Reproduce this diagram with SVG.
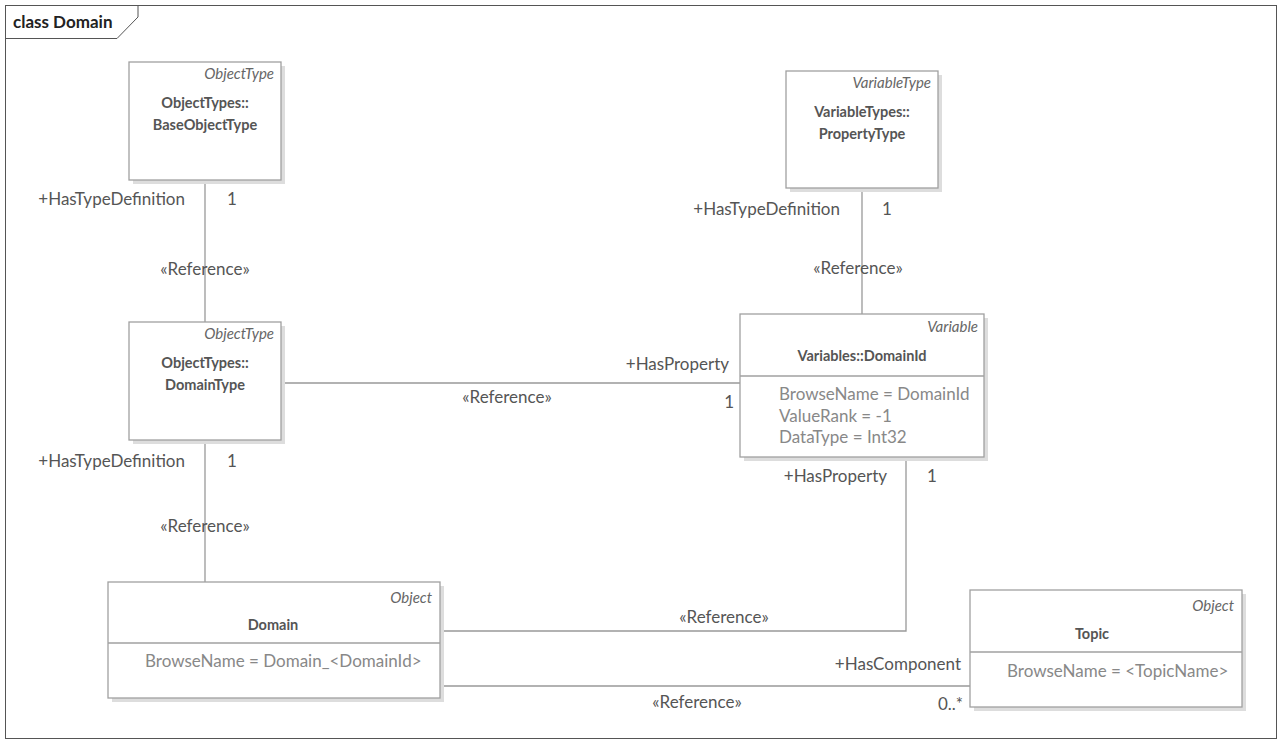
<svg xmlns="http://www.w3.org/2000/svg" width="1282" height="744" viewBox="0 0 1282 744">
<style>
text{font-family:Lato,"Liberation Sans",sans-serif;font-size:17px;fill:#555}
.st{font-style:italic;font-size:15px;fill:#666;text-anchor:end}
.nm{font-weight:bold;font-size:14.5px;text-anchor:middle;fill:#555}
.at{fill:#888}
.box{fill:#fff;stroke:#a0a0a0;stroke-width:1.3}
.sh{fill:#ddd}
.div{stroke:#a0a0a0;stroke-width:1.3}
.cn{fill:none;stroke:#999;stroke-width:1.3}
.mid{text-anchor:middle}
.end{text-anchor:end}
</style>
<rect width="1282" height="744" fill="#fff"/>
<g id="frame">
<rect x="5.5" y="5.5" width="1271" height="733" fill="none" stroke="#555" stroke-width="1"/>
<path d="M5.5 38.5 H117 L138 17 V5.5" fill="none" stroke="#555" stroke-width="1"/>
<text x="13" y="28" style="font-weight:bold;font-size:17px;fill:#222">class Domain</text>
</g>
<g id="connectors">
<path class="cn" d="M205 180 V322"/>
<path class="cn" d="M862 188 V314"/>
<path class="cn" d="M282 383 H740"/>
<path class="cn" d="M205 440 V582"/>
<path class="cn" d="M440 631 H906 V457"/>
<path class="cn" d="M440 686 H970"/>
<text x="185" y="205" class="end">+HasTypeDefinition</text>
<text x="227" y="205">1</text>
<text x="205" y="275" class="mid">«Reference»</text>
<text x="840" y="215" class="end">+HasTypeDefinition</text>
<text x="882" y="215">1</text>
<text x="858" y="274" class="mid">«Reference»</text>
<text x="729" y="370" class="end">+HasProperty</text>
<text x="734" y="408" class="end">1</text>
<text x="507" y="403" class="mid">«Reference»</text>
<text x="185" y="467" class="end">+HasTypeDefinition</text>
<text x="227" y="467">1</text>
<text x="205" y="532" class="mid">«Reference»</text>
<text x="887" y="482" class="end">+HasProperty</text>
<text x="927" y="482">1</text>
<text x="724" y="623" class="mid">«Reference»</text>
<text x="961" y="670" class="end">+HasComponent</text>
<text x="963" y="710" class="end">0..*</text>
<text x="697" y="708" class="mid">«Reference»</text>
</g>
<g id="BaseObjectType">
<rect class="sh" x="133" y="66" width="152" height="118"/>
<rect class="box" x="129" y="62" width="152" height="118"/>
<text x="274" y="79" class="st">ObjectType</text>
<text x="205" y="108" class="nm">ObjectTypes::</text>
<text x="205" y="130" class="nm">BaseObjectType</text>
</g>
<g id="PropertyType">
<rect class="sh" x="790" y="75" width="152" height="117"/>
<rect class="box" x="786" y="71" width="152" height="117"/>
<text x="931" y="88" class="st">VariableType</text>
<text x="862" y="117" class="nm">VariableTypes::</text>
<text x="862" y="139" class="nm">PropertyType</text>
</g>
<g id="DomainType">
<rect class="sh" x="133" y="326" width="152" height="118"/>
<rect class="box" x="129" y="322" width="152" height="118"/>
<text x="274" y="339" class="st">ObjectType</text>
<text x="205" y="368" class="nm">ObjectTypes::</text>
<text x="205" y="390" class="nm">DomainType</text>
</g>
<g id="DomainId">
<rect class="sh" x="744" y="318" width="244" height="143"/>
<rect class="box" x="740" y="314" width="244" height="143"/>
<text x="978" y="332" class="st">Variable</text>
<text x="862" y="361" class="nm">Variables::DomainId</text>
<line class="div" x1="740" y1="376" x2="984" y2="376"/>
<text x="779" y="400" class="at">BrowseName = DomainId</text>
<text x="779" y="422" class="at">ValueRank = -1</text>
<text x="779" y="443" class="at">DataType = Int32</text>
</g>
<g id="Domain">
<rect class="sh" x="112" y="586" width="332" height="116"/>
<rect class="box" x="108" y="582" width="332" height="116"/>
<text x="432" y="603" class="st">Object</text>
<text x="273" y="630" class="nm">Domain</text>
<line class="div" x1="108" y1="643" x2="440" y2="643"/>
<text x="145" y="667" class="at">BrowseName = Domain_&lt;DomainId&gt;</text>
</g>
<g id="Topic">
<rect class="sh" x="974" y="594" width="272" height="117"/>
<rect class="box" x="970" y="590" width="272" height="117"/>
<text x="1234" y="611" class="st">Object</text>
<text x="1092" y="639" class="nm">Topic</text>
<line class="div" x1="970" y1="652" x2="1242" y2="652"/>
<text x="1007" y="677" class="at">BrowseName = &lt;TopicName&gt;</text>
</g>
</svg>
